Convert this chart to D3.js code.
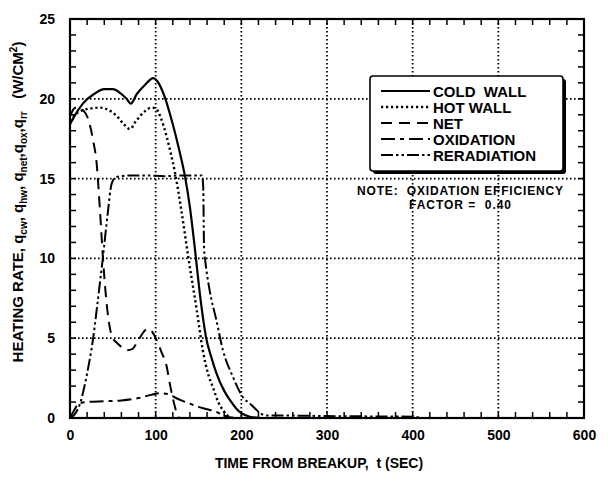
<!DOCTYPE html>
<html>
<head>
<meta charset="utf-8">
<script src="https://cdn.jsdelivr.net/npm/d3@7"></script>
<style>
  body { margin: 0; background: #fff; }
  text { font-family: "Liberation Sans", Arial, Helvetica, sans-serif; font-weight: bold; fill: #000; }
</style>
</head>
<body>
<div id="chart"></div>
<script>
const xTicks = [0, 100, 200, 300, 400, 500, 600];
const yTicks = [0, 5, 10, 15, 20, 25];

// [t (sec), q (W/cm2)]
const coldWall = [[0,18.4],[5,18.9],[15,19.7],[28,20.3],[40,20.6],[50,20.6],[60,20.3],[66,20.0],[71,19.7],[78,20.3],[88,20.9],[97,21.3],[102,21.1],[110,20.2],[120,18.4],[127,16.9],[134,15.2],[140,13.2],[146,10.5],[152,7.6],[159,5.0],[165,3.8],[171,2.8],[180,1.7],[187,1.1],[194,0.6],[200,0.3],[210,0.08],[222,0]];
const hotWall = [[0,18.6],[6,19.0],[15,19.3],[25,19.4],[35,19.45],[45,19.3],[55,18.9],[63,18.4],[70,18.1],[77,18.6],[87,19.2],[95,19.45],[100,19.4],[106,18.8],[113,17.6],[118,16.5],[122.5,15.4],[130,13.0],[138,10.1],[148,6.75],[155,4.25],[161,2.8],[167,1.9],[173,1.0],[178.5,0.5],[183,0.2],[190,0]];
const net = [[0,18.9],[5,19.4],[10,19.5],[15,19.3],[20,18.9],[23,18.4],[27,17.4],[31,16.0],[35,13.0],[38.5,10.0],[42,7.6],[46.7,5.6],[50,5.0],[55,4.7],[60,4.45],[66,4.25],[72,4.3],[80,4.9],[86,5.4],[91,5.6],[96,5.4],[101,4.9],[107,4.1],[113,3.2],[116,2.3],[119,1.5],[122.5,0.7],[126,0.1],[128,0]];
const oxidation = [[0,0],[5,0.5],[10,0.9],[20,1.0],[40,1.05],[60,1.1],[80,1.25],[95,1.45],[105,1.55],[115,1.5],[122,1.3],[130,1.1],[140,0.9],[150,0.7],[160,0.55],[170,0.4],[178,0.2],[186,0.05],[192,0]];
const reradiation = [[0,0],[5,0.2],[11.7,0.9],[20,2.8],[27,5.0],[33,7.6],[38.5,10.1],[44,12.8],[48.7,14.7],[54,15.1],[70,15.2],[90,15.2],[110,15.15],[130,15.2],[150,15.2],[154,15.2],[155.5,14.5],[156.5,10.6],[158,9.8],[163,8.0],[171,6.1],[178.5,4.25],[190,2.6],[202,1.3],[210,0.9],[216,0.6],[222,0.3],[230,0.15],[260,0.15],[300,0.12],[350,0.1],[400,0.08],[410,0]];

const legendNames = ["COLD\u00a0 WALL", "HOT WALL", "NET", "OXIDATION", "RERADIATION"];
const noteLines = ["NOTE:\u00a0 OXIDATION EFFICIENCY", "FACTOR =\u00a0 0.40"];

const series = [
  { data: coldWall, dash: null, w: 2.2 },
  { data: hotWall, dash: "2.2,2.8", w: 2.4 },
  { data: net, dash: "11,7", w: 2 },
  { data: oxidation, dash: "14,5,4,5", w: 2 },
  { data: reradiation, dash: "12,3,2.5,3,2.5,3", w: 2 }
];

const W = 608, H = 485;
const margin = { top: 19, left: 70 },
      width = 514, height = 399;

const svg = d3.select("#chart").append("svg")
  .attr("width", W).attr("height", H);
const g = svg.append("g").attr("transform", `translate(${margin.left},${margin.top})`);

const x = d3.scaleLinear().domain([0, 600]).range([0, width]);
const y = d3.scaleLinear().domain([0, 25]).range([height, 0]);

// dotted grid
g.selectAll(".vgrid").data(xTicks.slice(1, -1)).enter().append("line")
  .attr("x1", d => x(d)).attr("x2", d => x(d))
  .attr("y1", 0).attr("y2", height)
  .attr("stroke", "#000").attr("stroke-width", 1.8).attr("stroke-dasharray", "1.6,2.4");
g.selectAll(".hgrid").data(yTicks.slice(1, -1)).enter().append("line")
  .attr("y1", d => y(d)).attr("y2", d => y(d))
  .attr("x1", 0).attr("x2", width)
  .attr("stroke", "#000").attr("stroke-width", 1.8).attr("stroke-dasharray", "1.6,2.4");

// minor ticks, inward on all sides
const xMinor = d3.range(20, 600, 20);
const yMinor = d3.range(1, 25, 1);
const tk = 6;
xMinor.forEach(v => {
  g.append("line").attr("x1", x(v)).attr("x2", x(v)).attr("y1", height).attr("y2", height - tk)
    .attr("stroke", "#000").attr("stroke-width", 1.5);
  g.append("line").attr("x1", x(v)).attr("x2", x(v)).attr("y1", 0).attr("y2", tk)
    .attr("stroke", "#000").attr("stroke-width", 1.5);
});
yMinor.forEach(v => {
  g.append("line").attr("y1", y(v)).attr("y2", y(v)).attr("x1", 0).attr("x2", tk)
    .attr("stroke", "#000").attr("stroke-width", 1.5);
  g.append("line").attr("y1", y(v)).attr("y2", y(v)).attr("x1", width).attr("x2", width - tk)
    .attr("stroke", "#000").attr("stroke-width", 1.5);
});

// curves
const line = d3.line()
  .x(d => x(d[0]))
  .y(d => y(d[1]))
  .curve(d3.curveMonotoneX);

g.selectAll(".curve").data(series).enter().append("path")
  .attr("fill", "none")
  .attr("stroke", "#000")
  .attr("stroke-width", d => d.w)
  .attr("stroke-dasharray", d => d.dash)
  .attr("d", d => line(d.data));

// frame
g.append("rect").attr("width", width).attr("height", height)
  .attr("fill", "none").attr("stroke", "#000").attr("stroke-width", 2.2);

// axes labels
const xAxis = g.append("g").attr("transform", `translate(0,${height})`)
  .call(d3.axisBottom(x).tickValues(xTicks).tickSize(0).tickPadding(12).tickFormat(d3.format("d")));
xAxis.select(".domain").remove();
xAxis.selectAll("text").style("font-size", "14px").style("font-family", "Liberation Sans, Arial, sans-serif").style("font-weight", "bold");

const yAxis = g.append("g")
  .call(d3.axisLeft(y).tickValues(yTicks).tickSize(0).tickPadding(15).tickFormat(d3.format("d")));
yAxis.select(".domain").remove();
yAxis.selectAll("text").style("font-size", "14px").style("font-family", "Liberation Sans, Arial, sans-serif").style("font-weight", "bold");

// legend
const lg = svg.append("g").attr("transform", "translate(370,76)");
const lw = 193, lh = 95;
lg.append("rect").attr("x", 3).attr("y", 3).attr("width", lw).attr("height", lh).attr("rx", 3).attr("fill", "#000");
lg.append("rect").attr("width", lw).attr("height", lh).attr("rx", 3)
  .attr("fill", "#fff").attr("stroke", "#000").attr("stroke-width", 1.6);
legendNames.forEach((name, i) => {
  const cy = 15 + i * 16;
  lg.append("line").attr("x1", 11).attr("x2", 60).attr("y1", cy).attr("y2", cy)
    .attr("stroke", "#000").attr("stroke-width", series[i].w)
    .attr("stroke-dasharray", series[i].dash);
  lg.append("text").attr("x", 63).attr("y", cy + 5.5)
    .style("font-size", "15px").style("font-weight", "bold")
    .text(name);
});

// note
noteLines.forEach((t, i) => {
  svg.append("text").attr("x", 460).attr("y", 195 + i * 13.5)
    .attr("text-anchor", "middle").style("font-size", "12px")
    .attr("textLength", i === 0 ? 206 : 102)
    .text(t);
});

// axis titles
svg.append("text").attr("x", margin.left + width / 2 - 8).attr("y", 468)
  .attr("text-anchor", "middle").style("font-size", "14px").text("TIME FROM BREAKUP,\u00a0 t (SEC)");

const yl = svg.append("text")
  .attr("transform", "translate(23,202) rotate(-90)")
  .attr("text-anchor", "middle").style("font-size", "15px");
const parts = [["HEATING RATE, q", null], ["cw", "sub"], [", q", null], ["hw", "sub"], [", q", null], ["net", "sub"],
  [",q", null], ["ox", "sub"], [",q", null], ["rr", "sub"], ["\u00a0\u00a0 (W/CM", null], ["2", "sup"], [")", null]];
let shift = 0;
parts.forEach(([t, k]) => {
  const target = k === "sub" ? 4 : k === "sup" ? -6 : 0;
  yl.append("tspan").attr("dy", target - shift)
    .style("font-size", k ? "10px" : "15px").text(t);
  shift = target;
});
</script>
</body>
</html>
